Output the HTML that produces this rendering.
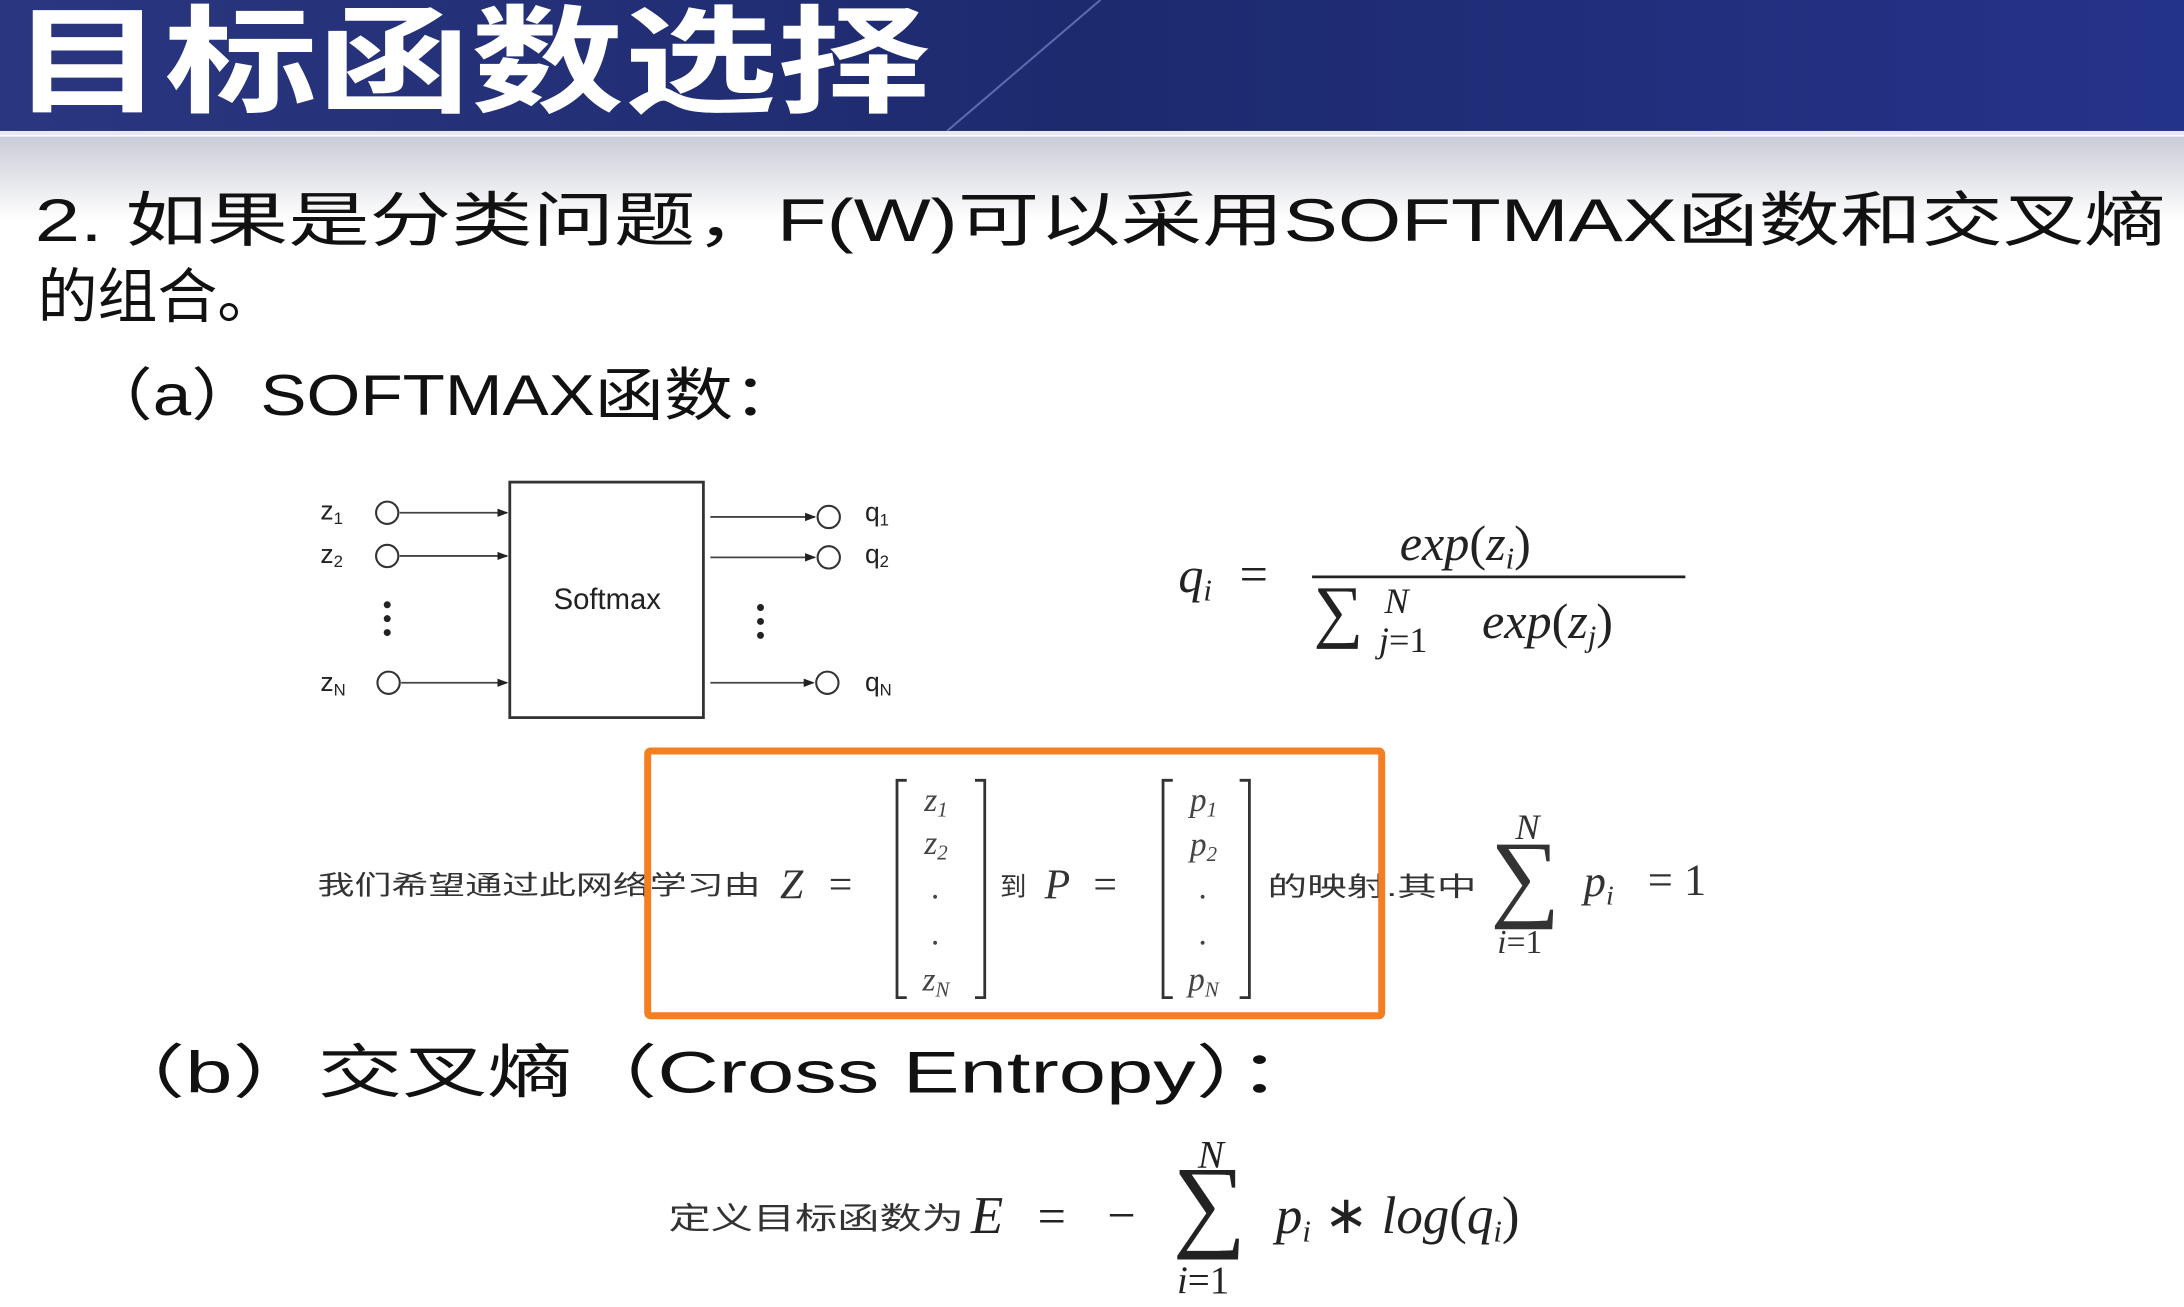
<!DOCTYPE html>
<html><head><meta charset="utf-8"><style>
html,body{margin:0;padding:0;background:#fff;}
svg{display:block;}
.cj{font-family:"Liberation Sans","Noto Sans CJK SC",sans-serif;}
.m{font-family:"Liberation Serif",serif;font-style:italic;}
.r{font-family:"Liberation Serif",serif;}
</style></head><body>
<svg width="2184" height="1307" viewBox="0 0 1568 938" preserveAspectRatio="none" xmlns="http://www.w3.org/2000/svg">
<defs>
<linearGradient id="hd" x1="0" y1="0" x2="1" y2="0">
<stop offset="0" stop-color="#2a3680"/><stop offset="0.5" stop-color="#1d2a6e"/><stop offset="1" stop-color="#24338a"/>
</linearGradient>
<linearGradient id="sh" x1="0" y1="0" x2="0" y2="1">
<stop offset="0" stop-color="#c9cbd6"/><stop offset="1" stop-color="#ffffff"/>
</linearGradient>
<marker id="ar" markerWidth="8" markerHeight="8" refX="7" refY="4" orient="auto" markerUnits="userSpaceOnUse"><path d="M0,1 L8,4 L0,7 z" fill="#222"/></marker>
</defs>
<rect x="0" y="0" width="1568" height="938" fill="#fff"/>
<rect x="0" y="98" width="1568" height="60" fill="url(#sh)"/>
<rect x="0" y="0" width="1568" height="94" fill="url(#hd)"/>
<line x1="680" y1="94" x2="790" y2="0" stroke="#5a6ab0" stroke-width="1.5"/>
<rect x="0" y="94" width="1568" height="3" fill="#e8e9f0"/>
<text x="8" y="74" class="cj" font-size="84" font-weight="bold" fill="#fff" textLength="660" lengthAdjust="spacingAndGlyphs">目标函数选择</text>

<text x="25" y="173" class="cj" font-size="43" fill="#111" textLength="1530" lengthAdjust="spacingAndGlyphs">2.  如果是分类问题，F(W)可以采用SOFTMAX函数和交叉熵</text>
<text x="27" y="228" class="cj" font-size="43" fill="#111">的组合。</text>
<text x="60" y="298" class="cj" font-size="41" fill="#111" textLength="516" lengthAdjust="spacingAndGlyphs">（a）SOFTMAX函数：</text>

<!-- diagram -->
<rect x="366" y="346" width="139" height="169" fill="#fff" stroke="#333" stroke-width="2"/>
<text x="436" y="437" class="cj" font-size="21" text-anchor="middle" fill="#222">Softmax</text>
<g stroke="#333" stroke-width="1.5" fill="#fff">
<circle cx="278" cy="368" r="8"/><circle cx="278" cy="399" r="8"/><circle cx="279" cy="490" r="8"/>
<circle cx="595" cy="371" r="8"/><circle cx="595" cy="400" r="8"/><circle cx="594" cy="490" r="8"/>
</g>
<g stroke="#444" stroke-width="1.3" marker-end="url(#ar)">
<line x1="287" y1="368" x2="364" y2="368"/><line x1="287" y1="399" x2="364" y2="399"/><line x1="288" y1="490" x2="364" y2="490"/>
<line x1="510" y1="371" x2="585" y2="371"/><line x1="510" y1="400" x2="585" y2="400"/><line x1="510" y1="490" x2="584" y2="490"/>
</g>
<g fill="#222"><circle cx="278" cy="434" r="2.5"/><circle cx="278" cy="444" r="2.5"/><circle cx="278" cy="454" r="2.5"/>
<circle cx="546" cy="436" r="2.5"/><circle cx="546" cy="446" r="2.5"/><circle cx="546" cy="456" r="2.5"/></g>
<g class="cj" font-size="19" fill="#222">
<text x="230" y="373">z<tspan font-size="12" dy="3">1</tspan></text>
<text x="230" y="404">z<tspan font-size="12" dy="3">2</tspan></text>
<text x="230" y="496">z<tspan font-size="12" dy="3">N</tspan></text>
<text x="621" y="374">q<tspan font-size="12" dy="3">1</tspan></text>
<text x="621" y="404">q<tspan font-size="12" dy="3">2</tspan></text>
<text x="621" y="496">q<tspan font-size="12" dy="3">N</tspan></text>
</g>
<!-- qi formula -->
<text x="846" y="425" class="m" font-size="36" fill="#222">q<tspan font-size="22" dy="6">i</tspan></text>
<text x="890" y="424" class="r" font-size="36" fill="#222">=</text>
<line x1="942" y1="414" x2="1210" y2="414" stroke="#222" stroke-width="2"/>
<text x="1005" y="402" class="m" font-size="36" fill="#222">exp<tspan font-style="normal">(</tspan>z<tspan font-size="22" dy="6">i</tspan><tspan font-style="normal" dy="-6">)</tspan></text>
<text x="943" y="455" class="r" font-size="50" fill="#222">∑</text>
<text x="994" y="440" class="m" font-size="26" fill="#222">N</text>
<text x="990" y="468" class="m" font-size="26" fill="#222">j<tspan font-style="normal">=1</tspan></text>
<text x="1064" y="458" class="m" font-size="36" fill="#222">exp<tspan font-style="normal">(</tspan>z<tspan font-size="22" dy="6">j</tspan><tspan font-style="normal" dy="-6">)</tspan></text>

<!-- mapping line -->
<text x="228" y="642" class="cj" font-size="19" fill="#333" textLength="318" lengthAdjust="spacingAndGlyphs">我们希望通过此网络学习由</text>
<text x="560" y="645" class="m" font-size="30" fill="#333">Z</text>
<text x="595" y="645" class="r" font-size="30" fill="#333">=</text>
<g stroke="#333" stroke-width="2" fill="none">
<path d="M651,560 H644 V716 H651"/><path d="M700,560 H707 V716 H700"/>
<path d="M842,560 H835 V716 H842"/><path d="M890,560 H897 V716 H890"/>
</g>
<g class="m" font-size="24" fill="#444" text-anchor="middle">
<text x="672" y="582">z<tspan font-size="15" dy="4">1</tspan></text>
<text x="672" y="613">z<tspan font-size="15" dy="4">2</tspan></text>
<text x="672" y="645">.</text><text x="672" y="678">.</text>
<text x="672" y="711">z<tspan font-size="15" dy="4">N</tspan></text>
<text x="864" y="582">p<tspan font-size="15" dy="4">1</tspan></text>
<text x="864" y="614">p<tspan font-size="15" dy="4">2</tspan></text>
<text x="864" y="645">.</text><text x="864" y="678">.</text>
<text x="864" y="711">p<tspan font-size="15" dy="4">N</tspan></text>
</g>
<text x="718" y="643" class="cj" font-size="19" fill="#333">到</text>
<text x="750" y="645" class="m" font-size="30" fill="#333">P</text>
<text x="785" y="645" class="r" font-size="30" fill="#333">=</text>
<text x="910" y="643" class="cj" font-size="19" fill="#333" textLength="150" lengthAdjust="spacingAndGlyphs">的映射.其中</text>
<text x="1070" y="652" class="r" font-size="70" fill="#333">∑</text>
<text x="1088" y="602" class="m" font-size="26" fill="#333">N</text>
<text x="1075" y="684" class="m" font-size="24" fill="#333">i<tspan font-style="normal">=1</tspan></text>
<text x="1137" y="643" class="m" font-size="32" fill="#333">p<tspan font-size="20" dy="6">i</tspan></text>
<text x="1183" y="642" class="r" font-size="32" fill="#333">= 1</text>
<rect x="465" y="539" width="527" height="190" fill="none" stroke="#f47f20" stroke-width="5" rx="2"/>

<!-- (b) -->
<text x="72" y="784" class="cj" font-size="42" fill="#111" textLength="878" lengthAdjust="spacingAndGlyphs">（b）交叉熵（Cross Entropy）：</text>

<text x="480" y="882" class="cj" font-size="22" fill="#333" textLength="212" lengthAdjust="spacingAndGlyphs">定义目标函数为</text>
<text x="697" y="885" class="m" font-size="38" fill="#222">E</text>
<text x="745" y="885" class="r" font-size="36" fill="#222">=</text>
<text x="795" y="884" class="r" font-size="36" fill="#222">−</text>
<text x="842" y="888" class="r" font-size="74" fill="#222">∑</text>
<text x="860" y="838" class="m" font-size="28" fill="#222">N</text>
<text x="845" y="928" class="m" font-size="28" fill="#222">i<tspan font-style="normal">=1</tspan></text>
<text x="916" y="885" class="m" font-size="38" fill="#222">p<tspan font-size="22" dy="6">i</tspan><tspan dy="-6" font-style="normal"> ∗ </tspan>log<tspan font-style="normal">(</tspan>q<tspan font-size="22" dy="6">i</tspan><tspan font-style="normal" dy="-6">)</tspan></text>
</svg>
</body></html>
